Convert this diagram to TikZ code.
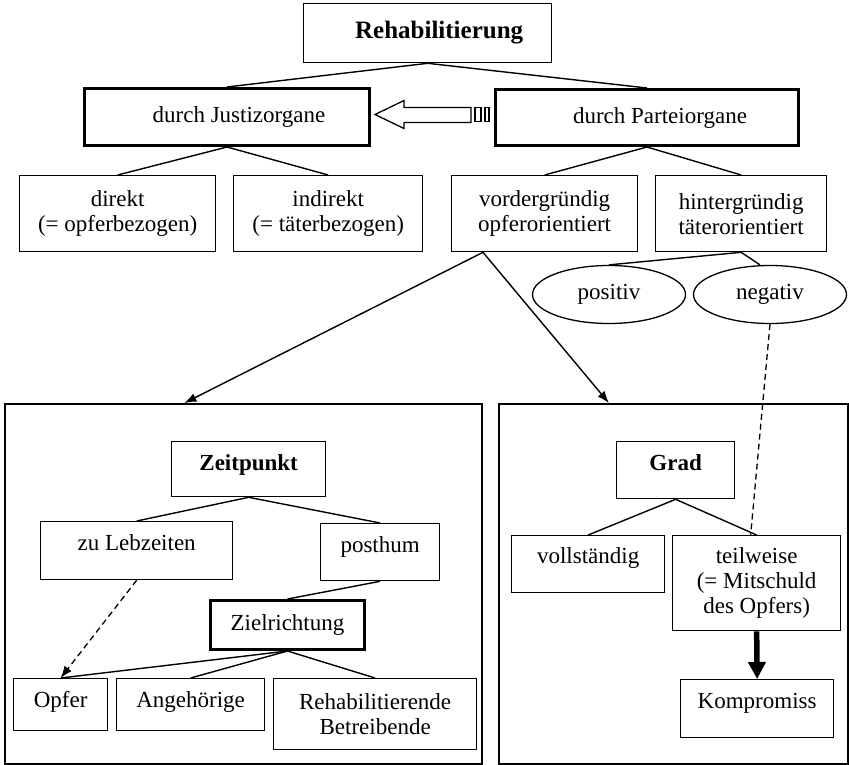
\documentclass[tikz,border=0pt]{standalone}
\usepackage{fontspec}
\setmainfont{Liberation Serif}
\usetikzlibrary{shapes.geometric,arrows.meta,calc}

\begin{document}
\begin{tikzpicture}[x=1pt,y=-1pt,
  font=\fontsize{23}{25}\selectfont,
  box/.style={draw, line width=1.3pt, inner sep=0pt, anchor=north west},
  heavybox/.style={box, line width=3pt},
  multibox/.style={box, align=center},
  frame/.style={draw, line width=1.8pt},
  oval/.style={draw, ellipse, line width=1.3pt, inner sep=0pt, minimum width=153pt, minimum height=58pt},
  link/.style={line width=1.4pt},
  pointer/.style={link, -{Latex[length=12pt,width=9pt]}},
  dashlink/.style={line width=1.3pt, dash pattern=on 6pt off 4pt},
  bigarrow/.style={line width=5.5pt, -{Triangle[length=17pt,width=17pt]}},
  title/.style={font=\bfseries\fontsize{23}{25}\selectfont}
]
\useasboundingbox (0,0) rectangle (849,764);

% ---- upper tree ----
\node[box, minimum width=248pt, text height=35pt, text depth=24pt,
      font=\bfseries\fontsize{25}{28}\selectfont] (reh) at (303,3) {\hspace*{23pt}Rehabilitierung};
\node[heavybox, minimum width=285pt, text height=34pt, text depth=23pt] (jus) at (83,87) {\hspace*{24pt}durch Justizorgane};
\node[heavybox, minimum width=303pt, text height=34pt, text depth=22pt] (par) at (494,88) {\hspace*{26pt}durch Parteiorgane};

\node[multibox, minimum width=196pt, minimum height=76pt] (dir) at (19,175) {direkt\\(= opferbezogen)};
\node[multibox, minimum width=189pt, minimum height=76pt] (ind) at (233,175) {indirekt\\(= täterbezogen)};
\node[multibox, minimum width=186pt, minimum height=76pt] (vor) at (451,175) {vordergründig\\opferorientiert};
\node[multibox, minimum width=171pt, minimum height=76pt] (hin) at (655,175) {hintergründig\\täterorientiert};

\node[oval] (pos) at (609,294.5) {positiv};
\node[oval] (neg) at (770,294.5) {negativ};

\draw[link] (reh.south) -- (jus.north);
\draw[link] (reh.south) -- (par.north);
\draw[link] (jus.south) -- (dir.north);
\draw[link] (jus.south) -- (ind.north);
\draw[link] (par.south) -- (vor.north);
\draw[link] (par.south) -- (hin.north);
\draw[link] (hin.south) -- (pos.north);
\draw[link] (hin.south) -- ([xshift=-10pt]neg.north);

% striped block arrow from the party organs towards the judiciary
\begin{scope}[shift={(jus.east)}, line width=1.3pt]
  \draw (100,-9.5) -- (33,-9.5) -- (33,-16.5) -- (4,-2.5) -- (33,11.5)
        -- (33,5.5) -- (100,5.5) -- cycle;
  \draw (104,-9.5) rectangle (110,4.5);
  \draw (114,-9.5) rectangle (118,4.5);
\end{scope}

% ---- frames ----
\node[frame, inner sep=0pt, anchor=north west, minimum width=477pt, minimum height=360pt] (lf) at (4,403) {};
\node[frame, inner sep=0pt, anchor=north west, minimum width=349pt, minimum height=360pt] (rf) at (498,403) {};

\coordinate (fork) at ([xshift=32pt]vor.south west);
\draw[pointer] (fork) -- ([xshift=-59pt]lf.north);
\draw[pointer] (fork) -- ([xshift=-64.5pt]rf.north);

% ---- left frame: Zeitpunkt ----
\node[box, minimum width=154pt, text height=29pt, text depth=26pt, title] (zeit) at (171,441) {Zeitpunkt};
\node[box, minimum width=192pt, text height=29pt, text depth=29pt] (zul) at (40,521) {zu Lebzeiten};
\node[box, minimum width=119pt, text height=29pt, text depth=28pt] (post) at (320,523) {posthum};
\node[heavybox, minimum width=154pt, text height=30pt, text depth=19pt] (ziel) at (209,599) {Zielrichtung};
\node[box, minimum width=94pt, text height=29pt, text depth=23pt] (opf) at (13,678) {Opfer};
\node[box, minimum width=148pt, text height=29pt, text depth=23pt] (ang) at (116,678) {Angehörige};
\node[multibox, minimum width=203pt, minimum height=71pt] (bet) at (273,678) {Rehabilitierende\\Betreibende};

\draw[link] (zeit.south) -- (zul.north);
\draw[link] (zeit.south) -- (post.north);
\draw[link] (post.south) -- (ziel.north);
\draw[link] (ziel.south) -- (opf.north);
\draw[link] (ziel.south) -- (ang.north);
\draw[link] (ziel.south) -- (bet.north);
\draw[dashlink, -{Latex[length=12pt,width=9pt]}] (zul.south) -- (opf.north);

% ---- right frame: Grad ----
\node[box, minimum width=118pt, text height=29pt, text depth=28pt, title] (grad) at (616,441) {Grad};
\node[box, minimum width=153pt, text height=28pt, text depth=29pt] (voll) at (511,535) {vollständig};
\node[multibox, minimum width=168pt, minimum height=95pt] (teil) at (672,535) {teilweise\\(= Mitschuld\\des Opfers)};
\node[box, minimum width=153pt, text height=29pt, text depth=29pt] (komp) at (680,679) {Kompromiss};

\draw[link] (grad.south) -- (voll.north);
\draw[link] (grad.south) -- (teil.north);
\draw[dashlink] (neg.south) -- ([xshift=-6pt]teil.north);
\draw[bigarrow] (teil.south) -- (komp.north);
\end{tikzpicture}
\end{document}
